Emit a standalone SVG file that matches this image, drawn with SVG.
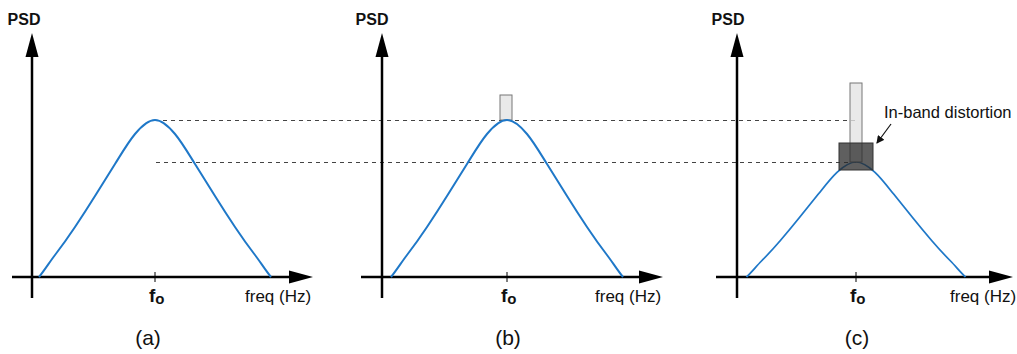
<svg xmlns="http://www.w3.org/2000/svg" xmlns:xlink="http://www.w3.org/1999/xlink" width="1017" height="354" viewBox="0 0 1017 354">
<style>
.axis{stroke:#000;stroke-width:2.5;fill:none}
.head{fill:#000}
.tick{stroke:#000;stroke-width:1}
.curve{stroke:#1f78c8;stroke-width:2;fill:none}
.dash{stroke:#444;stroke-width:1;stroke-dasharray:4 4;fill:none}
.lbl{font-family:"Liberation Sans",Arial,sans-serif;fill:#111}
.psd{font-size:16px;font-weight:bold;text-anchor:middle}
.freq{font-size:17px}
.fo{font-size:19px;font-weight:bold}
.cap{font-size:21px;text-anchor:middle}
.light{fill:#e4e4e4;fill-opacity:0.8;stroke:#777;stroke-width:1}
.dark{fill:#2a2a2a;fill-opacity:0.75;stroke:#333;stroke-width:1}
</style>
<defs>
<path id="bell" d="M-116,157 C-110.667,150.6 -105.333,141.933 -100,135 C-93.333,126.333 -86.667,117 -80,107 C-73.333,97 -66.667,86.667 -60,76 C-53.333,65.333 -46.667,54.667 -40,44 C-33.333,33.333 -26.667,22 -20,14 C-13.333,6 -6.667,0 0,0 C6.667,0 13.333,6 20,14 C26.667,22 33.333,33.333 40,44 C46.667,54.667 53.333,65.333 60,76 C66.667,86.667 73.333,97 80,107 C86.667,117 93.333,126.333 100,135 C105.333,141.933 110.667,150.6 116,157"/>
<marker id="ptr" markerWidth="8" markerHeight="8" refX="7" refY="4" orient="auto" markerUnits="userSpaceOnUse">
<path d="M0,0 L8,4 L0,8 Z" fill="#111"/>
</marker>
</defs>

<g id="connectors">
<line class="dash" x1="163" y1="120.5" x2="856" y2="120.5"/>
<line class="dash" x1="156" y1="162.5" x2="856" y2="162.5"/>
<line x1="891" y1="124" x2="877" y2="143" stroke="#111" stroke-width="1.2" marker-end="url(#ptr)"/>
</g>

<g id="panel-a">
<line class="axis" x1="32" y1="298" x2="32" y2="52"/>
<polygon class="head" points="32,33 25.5,57 38.5,57"/>
<line class="axis" x1="12" y1="277" x2="294" y2="277"/>
<polygon class="head" points="313,277 289,270.5 289,283.5"/>
<line class="tick" x1="155" y1="272" x2="155" y2="282"/>
<use xlink:href="#bell" class="curve" transform="translate(155,120)"/>
<text class="lbl psd" x="24" y="25">PSD</text>
<text class="lbl fo" x="149" y="302">f<tspan font-size="15" dy="2">o</tspan></text>
<text class="lbl freq" x="245" y="302">freq (Hz)</text>
<text class="lbl cap" x="148" y="345">(a)</text>
</g>

<g id="panel-b">
<line class="axis" x1="382" y1="298" x2="382" y2="52"/>
<polygon class="head" points="382,33 375.5,57 388.5,57"/>
<line class="axis" x1="361" y1="277" x2="644" y2="277"/>
<polygon class="head" points="663,277 639,270.5 639,283.5"/>
<line class="tick" x1="507" y1="272" x2="507" y2="282"/>
<rect class="light" x="500" y="95" width="12" height="25"/>
<use xlink:href="#bell" class="curve" transform="translate(507,120)"/>
<text class="lbl psd" x="372" y="25">PSD</text>
<text class="lbl fo" x="501" y="302">f<tspan font-size="15" dy="2">o</tspan></text>
<text class="lbl freq" x="595" y="302">freq (Hz)</text>
<text class="lbl cap" x="508" y="345">(b)</text>
</g>

<g id="panel-c">
<line class="axis" x1="737" y1="298" x2="737" y2="52"/>
<polygon class="head" points="737,33 730.5,57 743.5,57"/>
<line class="axis" x1="716" y1="277" x2="994" y2="277"/>
<polygon class="head" points="1013,277 989,270.5 989,283.5"/>
<line class="tick" x1="856" y1="272" x2="856" y2="282"/>
<use xlink:href="#bell" class="curve" transform="translate(856,162) scale(0.944,0.7325)" style="vector-effect:non-scaling-stroke"/>
<rect class="light" x="850" y="83" width="12" height="79"/>
<rect class="dark" x="839" y="143" width="34" height="27"/>
<text class="lbl psd" x="728" y="25">PSD</text>
<text class="lbl fo" x="850" y="302">f<tspan font-size="15" dy="2">o</tspan></text>
<text class="lbl freq" x="950" y="302">freq (Hz)</text>
<text class="lbl cap" x="857" y="345">(c)</text>
<text class="lbl" x="884" y="118" font-size="16.5">In-band distortion</text>
</g>
</svg>
